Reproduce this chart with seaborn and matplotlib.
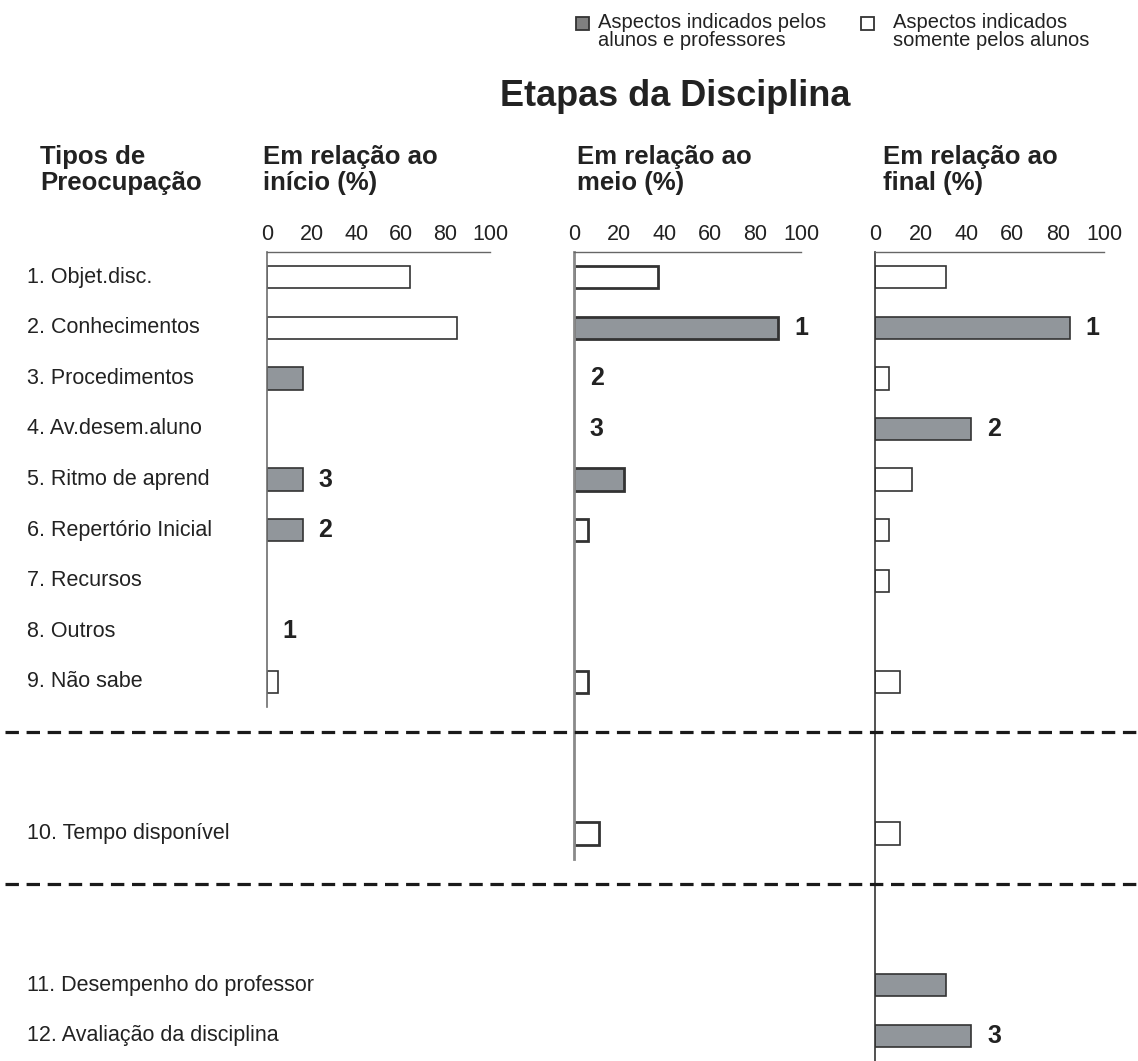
import numpy as np
import pandas as pd
import matplotlib
matplotlib.use("Agg")
import matplotlib.pyplot as plt
import matplotlib.transforms as mtransforms
from matplotlib.patches import Rectangle
from matplotlib.lines import Line2D
import seaborn as sns

# ---------------- dados ----------------
categorias = [
    "1. Objet.disc.",
    "2. Conhecimentos",
    "3. Procedimentos",
    "4. Av.desem.aluno",
    "5. Ritmo de aprend",
    "6. Repertório Inicial",
    "7. Recursos",
    "8. Outros",
    "9. Não sabe",
    "10. Tempo disponível",
    "11. Desempenho do professor",
    "12. Avaliação da disciplina",
]

# "ambos" = indicado por alunos e professores, "alunos" = somente alunos
inicio = [64, 85, 16, 0, 16, 16, 0, 0, 5]
inicio_grupo = ["alunos", "alunos", "ambos", "ambos", "ambos", "ambos", "alunos", "ambos", "alunos"]
inicio_rank = [None, None, None, None, 3, 2, None, 1, None]

meio = [37, 90, 0, 0, 22, 6, 0, 0, 6, 11]
meio_grupo = ["alunos", "ambos", "ambos", "ambos", "ambos", "alunos", "alunos", "alunos", "alunos", "alunos"]
meio_rank = [None, 1, 2, 3, None, None, None, None, None, None]

final = [31, 85, 6, 42, 16, 6, 6, 0, 11, 11, 31, 42]
final_grupo = ["alunos", "ambos", "alunos", "ambos", "alunos", "alunos", "alunos", "alunos",
               "alunos", "alunos", "ambos", "ambos"]
final_rank = [None, 1, None, 2, None, None, None, None, None, None, None, 3]

titulos = ["Em relação ao\ninício (%)", "Em relação ao\nmeio (%)", "Em relação ao\nfinal (%)"]
ticks_x = [0, 20, 40, 60, 80, 100]

# linhas vazias entre os blocos de categorias
slots_inicio = categorias[:9]
slots_meio = categorias[:9] + ["_a", "_b", categorias[9]]
slots_final = categorias[:9] + ["_a", "_b", categorias[9], "_c", "_d", categorias[10], categorias[11]]

cores = {"ambos": "#8f969d", "alunos": "white"}

# ---------------- figura ----------------
sns.set_style("white")
plt.rcParams["font.family"] = ["Liberation Sans", "DejaVu Sans"]

W, H = 1138, 1061
fig = plt.figure(figsize=(W / 100, H / 100), dpi=100)

topo = 1 - 252 / H
slot_h = 50.56 / H


def novo_eixo(x0_px, w_px, n):
    return fig.add_axes([x0_px / W, topo - n * slot_h, w_px / W, n * slot_h])


def painel(ax, valores, grupos, ranks, slots, lw, cor_spine, lw_spine):
    df = pd.DataFrame({"cat": categorias[:len(valores)], "valor": valores, "grupo": grupos})
    df = df[df["valor"] > 0]
    sns.barplot(data=df, x="valor", y="cat", hue="grupo", order=slots,
                hue_order=["ambos", "alunos"], palette=cores, dodge=False,
                width=0.44, edgecolor="#333333", linewidth=lw, legend=False, ax=ax)
    ax.set_xlim(0, 100)
    ax.xaxis.tick_top()
    ax.set_xticks(ticks_x)
    ax.tick_params(axis="x", direction="in", length=3, labelsize=15.5, pad=5,
                   color="#555555", labelcolor="#222222")
    ax.set_yticks(np.arange(len(slots)) + 0.5)
    ax.set_yticklabels([])
    ax.tick_params(axis="y", direction="out", length=4, color="#555555")
    ax.set_ylim(len(slots) - 0.5, -0.5)
    ax.set_xlabel("")
    ax.set_ylabel("")
    sns.despine(ax=ax, top=False, right=True, bottom=True, left=False)
    ax.spines["top"].set_color("#666666")
    ax.spines["top"].set_linewidth(1.0)
    ax.spines["left"].set_color(cor_spine)
    ax.spines["left"].set_linewidth(lw_spine)
    ax.patch.set_alpha(0)
    for i, r in enumerate(ranks):
        if r is not None:
            ax.text(valores[i] + 7, slots.index(categorias[i]), str(r), ha="left", va="center",
                    fontsize=18, fontweight="bold", color="#222222")


ax1 = novo_eixo(267, 223, len(slots_inicio))
ax2 = novo_eixo(574, 227, len(slots_meio))
ax3 = novo_eixo(875, 229, len(slots_final))

painel(ax1, inicio, inicio_grupo, inicio_rank, slots_inicio, 1.2, "#6e6e6e", 1.2)
painel(ax2, meio, meio_grupo, meio_rank, slots_meio, 2.0, "#8a8a8a", 2.0)
painel(ax3, final, final_grupo, final_rank, slots_final, 1.2, "#333333", 1.2)

# nomes das categorias (posição vertical pelo eixo da direita)
trans_lab = mtransforms.blended_transform_factory(fig.transFigure, ax3.transData)
for cat in categorias:
    fig.text(27 / W, slots_final.index(cat), cat, transform=trans_lab,
             ha="left", va="center", fontsize=15.5, color="#222222")

# linhas tracejadas separando os blocos
for gap in ["_a", "_c"]:
    y = slots_final.index(gap)
    fig.add_artist(Line2D([5 / W, 1.0], [y, y], transform=trans_lab, color="#1a1a1a",
                          lw=2.3, linestyle=(0, (4.2, 2.4))))

# títulos
fig.text(675 / W, 1 - 97 / H, "Etapas da Disciplina", ha="center", va="center",
         fontsize=26, fontweight="bold", color="#222222")
fig.text(40 / W, 1 - 170 / H, "Tipos de\nPreocupação", ha="left", va="center",
         fontsize=18.5, fontweight="bold", color="#222222", linespacing=1.1)
for x_px, t in zip([263, 577, 883], titulos):
    fig.text(x_px / W, 1 - 170 / H, t, ha="left", va="center",
             fontsize=18.5, fontweight="bold", color="#222222", linespacing=1.1)

# legenda
leg_txt = ["Aspectos indicados pelos\nalunos e professores",
           "Aspectos indicados\nsomente pelos alunos"]
leg_cor = ["#808080", "white"]
for x_q, x_t, t, c in zip([576, 861], [598, 893], leg_txt, leg_cor):
    fig.add_artist(Rectangle((x_q / W, 1 - 30 / H), 13 / W, 13 / H, transform=fig.transFigure,
                             facecolor=c, edgecolor="#333333", lw=1.3))
    fig.text(x_t / W, 1 - 13 / H, t, ha="left", va="top", fontsize=14.5,
             color="#222222", linespacing=0.95)

fig.savefig("out.png", dpi=100, facecolor="white")
